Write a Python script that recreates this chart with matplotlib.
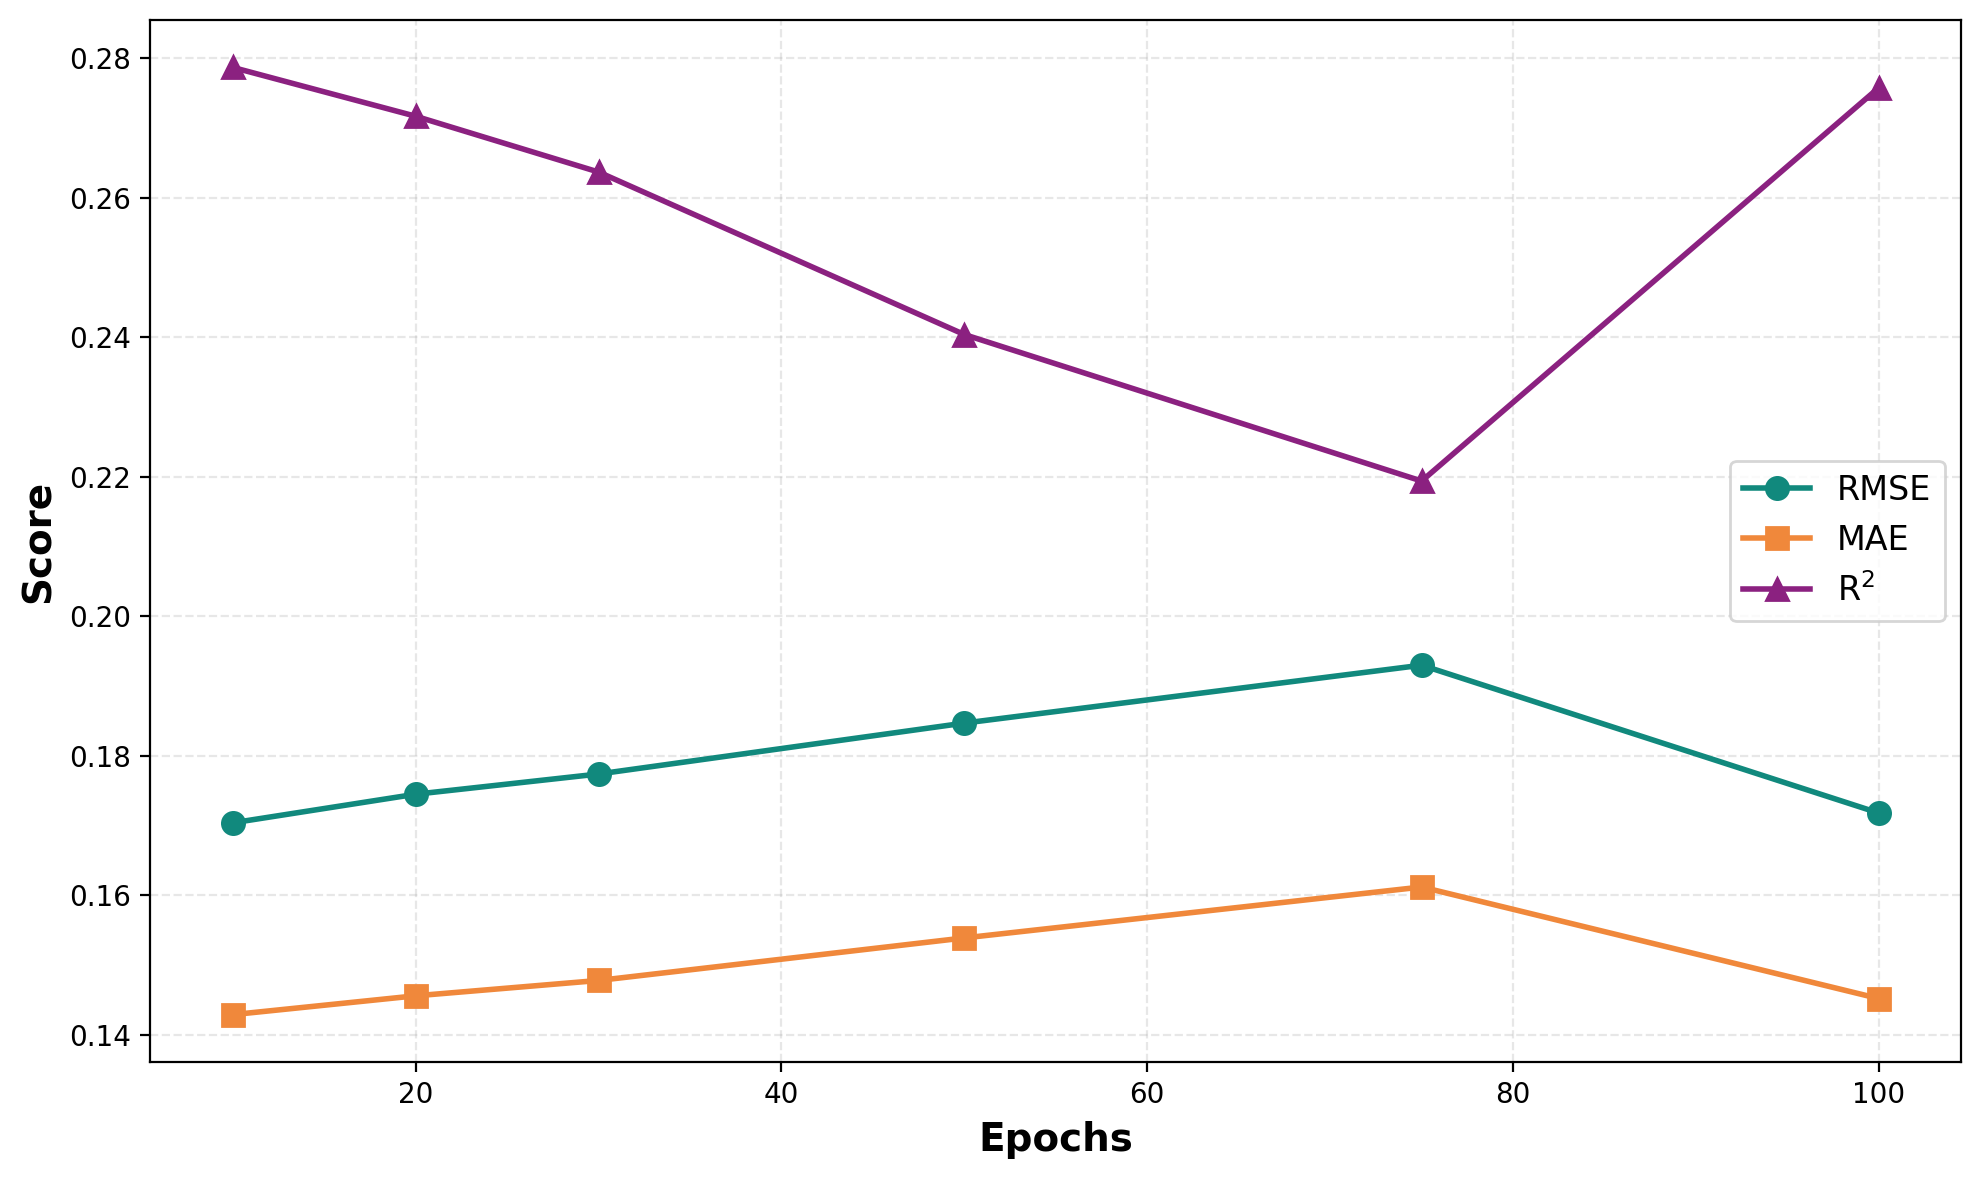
import matplotlib
matplotlib.use("Agg")
import matplotlib.pyplot as plt

# values
epochs = [10, 20, 30, 50, 75, 100]
rmse = [0.1704, 0.1745, 0.1774, 0.1847, 0.1930, 0.1718]
mae = [0.1429, 0.1456, 0.1478, 0.1539, 0.1612, 0.1452]
r2 = [0.2787, 0.2717, 0.2637, 0.2404, 0.2194, 0.2758]

series_names = ["RMSE", "MAE", r"R$^2$"]
colors = ["#11897d", "#f0883b", "#8b2180"]
markers = ["o", "s", "^"]


def main():
    fig, ax = plt.subplots(figsize=(9.9, 5.9), dpi=200)
    fig.subplots_adjust(left=0.076, right=0.9905, top=0.983, bottom=0.100)

    for vals, name, c, m in zip([rmse, mae, r2], series_names, colors, markers):
        ax.plot(epochs, vals, marker=m, color=c, label=name,
                linewidth=2, markersize=8)

    ax.set_xlabel("Epochs", fontsize=14, fontweight="bold")
    ax.set_ylabel("Score", fontsize=14, fontweight="bold")
    ax.tick_params(labelsize=10)
    ax.grid(True, linestyle="--", alpha=0.3)
    ax.legend(loc="center right", fontsize=12)

    fig.savefig("out.png", dpi=200)


if __name__ == "__main__":
    main()
